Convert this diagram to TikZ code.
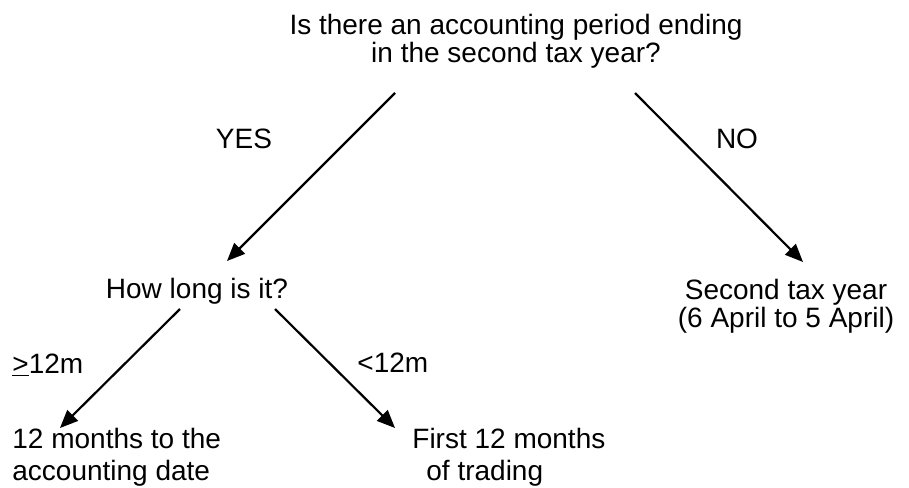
\documentclass[tikz,border=0pt]{standalone}
\usepackage{fontspec}
\setmainfont{Liberation Sans}
\usepackage{tikz}
\usetikzlibrary{arrows.meta}

\tikzset{
  txt/.style={font=\fontsize{14}{14}\selectfont, inner sep=0pt},
  low/.style={font=\fontsize{14}{16}\selectfont, inner sep=0pt},
  arr/.style={-{Triangle[length=9pt,width=7.5pt]}, line width=1.1pt}
}

\begin{document}
\begin{tikzpicture}[x=0.5pt,y=-0.5pt]
\useasboundingbox (0,0) rectangle (909,487);
% questions and answers
\node[txt, align=center] (q1) at (516,41) {Is there an accounting period ending\\in the second tax year?};
\node[txt, anchor=base] (yes) at (244,148) {YES};
\node[txt, anchor=base] (no)  at (737,148) {NO};
\node[txt, anchor=base] (q2)  at (197,298) {How long is it?};
\node[txt, align=center] (ans2) at (786,306) {Second tax year\\(6 April to 5 April)};
\node[txt, anchor=base west] (ge) at (12,373) {\underline{>}12m};
\node[txt, anchor=base west] (lt) at (357,372) {<12m};
\node[low, align=left, anchor=west] (ans1) at (12,457) {12 months to the\\accounting date};
\node[low, align=left, anchor=west] (ans3) at (412,457) {First 12 months\\\hspace*{7pt}of trading};
% arrow ends
\coordinate (y0) at (395,93);  \coordinate (y1) at (227,261);
\coordinate (n0) at (635,93);  \coordinate (n1) at (803,262);
\coordinate (g0) at (180,309); \coordinate (g1) at (60,428);
\coordinate (l0) at (275,309); \coordinate (l1) at (395,428);
\draw[arr] (y0) -- (y1);
\draw[arr] (n0) -- (n1);
\draw[arr] (g0) -- (g1);
\draw[arr] (l0) -- (l1);
\end{tikzpicture}
\end{document}
